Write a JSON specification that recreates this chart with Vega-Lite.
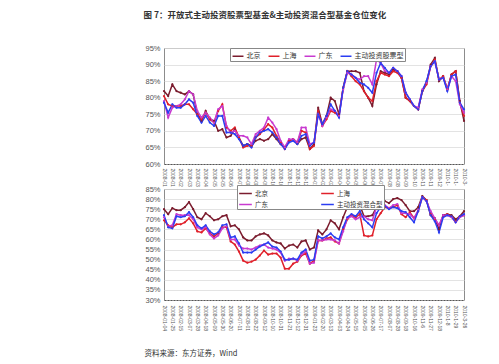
{
  "$schema": "https://vega.github.io/schema/vega-lite/v6.json",
  "padding": {"left": 143, "top": 11, "right": 20, "bottom": 2},
  "background": "white",
  "title": {"text": "图 7：开放式主动投资股票型基金&主动投资混合型基金仓位变化", "anchor": "start", "frame": "bounds", "fontSize": 8.5, "fontWeight": "bold", "font": "Noto Sans CJK SC", "color": "#333333", "offset": 24},
  "config": {
    "view": {"stroke": "#8c8c8c", "strokeWidth": 1},
    "concat": {"spacing": 25},
    "font": "Liberation Sans",
    "axis": {"labelColor": "#555555", "labelFont": "Liberation Sans", "ticks": false, "title": null, "gridColor": "#dcdcdc", "gridWidth": 0.8}
  },
  "bounds": "flush",
  "datasets": {
    "top": [
      {"t":0,"北京":82,"上海":80.5,"广东":79,"主动投资股票型":78.5},
      {"t":1,"北京":80.5,"上海":78,"广东":74,"主动投资股票型":75.5},
      {"t":2,"北京":84,"上海":77.5,"广东":77,"主动投资股票型":78},
      {"t":3,"北京":82,"上海":77.5,"广东":77.5,"主动投资股票型":77},
      {"t":4,"北京":81.5,"上海":77.5,"广东":78,"主动投资股票型":77},
      {"t":5,"北京":81,"上海":78,"广东":79.5,"主动投资股票型":78},
      {"t":6,"北京":82,"上海":78,"广东":82,"主动投资股票型":79.5},
      {"t":7,"北京":81,"上海":76.5,"广东":81,"主动投资股票型":78.5},
      {"t":8,"北京":75,"上海":75,"广东":76,"主动投资股票型":74.5},
      {"t":9,"北京":73,"上海":73.5,"广东":74,"主动投资股票型":72.5},
      {"t":10,"北京":76,"上海":75.5,"广东":75.5,"主动投资股票型":74.5},
      {"t":11,"北京":73.5,"上海":73.5,"广东":74,"主动投资股票型":72.5},
      {"t":12,"北京":73,"上海":72.5,"广东":72.5,"主动投资股票型":71.5},
      {"t":13,"北京":70,"上海":76,"广东":76.5,"主动投资股票型":74.5},
      {"t":14,"北京":70.5,"上海":78,"广东":77.5,"主动投资股票型":74.5},
      {"t":15,"北京":68,"上海":71,"广东":71.5,"主动投资股票型":69.5},
      {"t":16,"北京":68.5,"上海":70,"广东":69.5,"主动投资股票型":69.5},
      {"t":17,"北京":70.5,"上海":71,"广东":70,"主动投资股票型":69},
      {"t":18,"北京":68,"上海":68,"广东":68.5,"主动投资股票型":67.5},
      {"t":19,"北京":65.5,"上海":65,"广东":68.5,"主动投资股票型":65.5},
      {"t":20,"北京":66,"上海":65.5,"广东":68,"主动投资股票型":66},
      {"t":21,"北京":65.5,"上海":65.5,"广东":66,"主动投资股票型":65},
      {"t":22,"北京":67,"上海":68,"广东":69,"主动投资股票型":68},
      {"t":23,"北京":67.5,"上海":69,"广东":70,"主动投资股票型":69.5},
      {"t":24,"北京":67,"上海":70.5,"广东":71,"主动投资股票型":70},
      {"t":25,"北京":67.5,"上海":72,"广东":74,"主动投资股票型":70.5},
      {"t":26,"北京":69,"上海":71,"广东":72.5,"主动投资股票型":69.5},
      {"t":27,"北京":67.5,"上海":68.5,"广东":70.5,"主动投资股票型":68},
      {"t":28,"北京":66,"上海":66.5,"广东":67,"主动投资股票型":66},
      {"t":29,"北京":65,"上海":64.5,"广东":65,"主动投资股票型":64.5},
      {"t":30,"北京":67,"上海":67,"广东":67.5,"主动投资股票型":66.5},
      {"t":31,"北京":67.5,"上海":67.5,"广东":67.5,"主动投资股票型":67},
      {"t":32,"北京":66,"上海":66.5,"广东":66.5,"主动投资股票型":66},
      {"t":33,"北京":67.5,"上海":70,"广东":71,"主动投资股票型":68.5},
      {"t":34,"北京":68,"上海":69.5,"广东":71,"主动投资股票型":69},
      {"t":35,"北京":64.5,"上海":64.5,"广东":66,"主动投资股票型":65.5},
      {"t":36,"北京":66,"上海":65.5,"广东":66.5,"主动投资股票型":66.5},
      {"t":37,"北京":77,"上海":76,"广东":75,"主动投资股票型":75},
      {"t":38,"北京":72,"上海":71.5,"广东":71.5,"主动投资股票型":72},
      {"t":39,"北京":74.5,"上海":73.5,"广东":74,"主动投资股票型":74.5},
      {"t":40,"北京":80,"上海":76,"广东":76.5,"主动投资股票型":78},
      {"t":41,"北京":79,"上海":75.5,"广东":76,"主动投资股票型":76},
      {"t":42,"北京":75,"上海":74.5,"广东":74.5,"主动投资股票型":74},
      {"t":43,"北京":83,"上海":83,"广东":82.5,"主动投资股票型":83},
      {"t":44,"北京":88,"上海":88,"广东":87.5,"主动投资股票型":88},
      {"t":45,"北京":88,"上海":86.5,"广东":87,"主动投资股票型":87},
      {"t":46,"北京":88,"上海":85,"广东":86,"主动投资股票型":86},
      {"t":47,"北京":87.5,"上海":84,"广东":85.5,"主动投资股票型":84.5},
      {"t":48,"北京":82,"上海":82,"广东":86.5,"主动投资股票型":84},
      {"t":49,"北京":80,"上海":80,"广东":86.5,"主动投资股票型":83},
      {"t":50,"北京":77.5,"上海":79,"广东":84,"主动投资股票型":81.5},
      {"t":51,"北京":84,"上海":85,"广东":91.5,"主动投资股票型":87.5},
      {"t":52,"北京":88,"上海":87.5,"广东":90.5,"主动投资股票型":90.5},
      {"t":53,"北京":87.5,"上海":87,"广东":88,"主动投资股票型":89},
      {"t":54,"北京":87,"上海":86.5,"广东":87.5,"主动投资股票型":87.5},
      {"t":55,"北京":88.5,"上海":88,"广东":89,"主动投资股票型":89},
      {"t":56,"北京":88,"上海":87.5,"广东":88,"主动投资股票型":88},
      {"t":57,"北京":86,"上海":86,"广东":86.5,"主动投资股票型":86.5},
      {"t":58,"北京":80,"上海":80,"广东":81.5,"主动投资股票型":81.5},
      {"t":59,"北京":79,"上海":79,"广东":79.5,"主动投资股票型":79.5},
      {"t":60,"北京":77.5,"上海":77.5,"广东":77.5,"主动投资股票型":77.5},
      {"t":61,"北京":76.5,"上海":76.5,"广东":77,"主动投资股票型":76.5},
      {"t":62,"北京":82,"上海":82,"广东":82.5,"主动投资股票型":82},
      {"t":63,"北京":84.5,"上海":84,"广东":84.5,"主动投资股票型":85},
      {"t":64,"北京":90,"上海":89.5,"广东":89.5,"主动投资股票型":89.5},
      {"t":65,"北京":92,"上海":91.5,"广东":91,"主动投资股票型":91},
      {"t":66,"北京":85,"上海":85.5,"广东":85.5,"主动投资股票型":85.5},
      {"t":67,"北京":86.5,"上海":86.5,"广东":86,"主动投资股票型":86},
      {"t":68,"北京":82.5,"上海":82.5,"广东":82.5,"主动投资股票型":82},
      {"t":69,"北京":87,"上海":87,"广东":86.5,"主动投资股票型":86.5},
      {"t":70,"北京":88,"上海":88,"广东":85,"主动投资股票型":87},
      {"t":71,"北京":79,"上海":78.5,"广东":78,"主动投资股票型":78.5},
      {"t":72,"北京":73,"上海":74.5,"广东":75.5,"主动投资股票型":76.5}
    ],
    "bottom": [
      {"t":0,"北京":75,"上海":69.5,"广东":71,"主动投资混合型":72},
      {"t":1,"北京":72.5,"上海":67,"广东":66.5,"主动投资混合型":66},
      {"t":2,"北京":75.5,"上海":66,"广东":67,"主动投资混合型":65.5},
      {"t":3,"北京":74.5,"上海":67.5,"广东":72.5,"主动投资混合型":71.5},
      {"t":4,"北京":74.5,"上海":67.5,"广东":72,"主动投资混合型":71},
      {"t":5,"北京":76,"上海":68.5,"广东":72,"主动投资混合型":71.5},
      {"t":6,"北京":78.5,"上海":70.5,"广东":72,"主动投资混合型":73.5},
      {"t":7,"北京":75,"上海":68,"广东":70,"主动投资混合型":71},
      {"t":8,"北京":71,"上海":64,"广东":66,"主动投资混合型":67},
      {"t":9,"北京":70,"上海":63.5,"广东":65,"主动投资混合型":65.5},
      {"t":10,"北京":73,"上海":65.5,"广东":66,"主动投资混合型":67},
      {"t":11,"北京":71.5,"上海":63,"广东":62.5,"主动投资混合型":64},
      {"t":12,"北京":69.5,"上海":61.5,"广东":60.5,"主动投资混合型":62.5},
      {"t":13,"北京":70,"上海":63,"广东":62,"主动投资混合型":63.5},
      {"t":14,"北京":71.5,"上海":66,"广东":65.5,"主动投资混合型":67},
      {"t":15,"北京":72,"上海":66,"广东":66.5,"主动投资混合型":67.5},
      {"t":16,"北京":66.5,"上海":59,"广东":60,"主动投资混合型":61},
      {"t":17,"北京":67,"上海":57.5,"广东":60,"主动投资混合型":61.5},
      {"t":18,"北京":65,"上海":54,"广东":57,"主动投资混合型":58},
      {"t":19,"北京":61,"上海":49.5,"广东":55.5,"主动投资混合型":53.5},
      {"t":20,"北京":59.5,"上海":48.5,"广东":55.5,"主动投资混合型":53.5},
      {"t":21,"北京":59.5,"上海":49,"广东":55,"主动投资混合型":53.5},
      {"t":22,"北京":61.5,"上海":50,"广东":56,"主动投资混合型":55},
      {"t":23,"北京":62.5,"上海":52,"广东":57,"主动投资混合型":56.5},
      {"t":24,"北京":63,"上海":54.5,"广东":57.5,"主动投资混合型":57.5},
      {"t":25,"北京":62,"上海":52.5,"广东":56,"主动投资混合型":58.5},
      {"t":26,"北京":59.5,"上海":53,"广东":55.5,"主动投资混合型":56.5},
      {"t":27,"北京":58.5,"上海":53,"广东":55,"主动投资混合型":56},
      {"t":28,"北京":58,"上海":51,"广东":53.5,"主动投资混合型":54},
      {"t":29,"北京":55.5,"上海":45.5,"广东":49.5,"主动投资混合型":50},
      {"t":30,"北京":57,"上海":45.5,"广东":50.5,"主动投资混合型":50},
      {"t":31,"北京":57.5,"上海":48,"广东":50.5,"主动投资混合型":50.5},
      {"t":32,"北京":56,"上海":49,"广东":49.5,"主动投资混合型":50},
      {"t":33,"北京":59,"上海":52,"广东":52.5,"主动投资混合型":53.5},
      {"t":34,"北京":59.5,"上海":53,"广东":54,"主动投资混合型":55},
      {"t":35,"北京":55,"上海":48,"广东":48,"主动投资混合型":49.5},
      {"t":36,"北京":56,"上海":49.5,"广东":48.5,"主动投资混合型":50},
      {"t":37,"北京":64.5,"上海":59.5,"广东":59.5,"主动投资混合型":61.5},
      {"t":38,"北京":62.5,"上海":59.5,"广东":59.5,"主动投资混合型":60.5},
      {"t":39,"北京":65,"上海":60.5,"广东":60,"主动投资混合型":61.5},
      {"t":40,"北京":69.5,"上海":61,"广东":60,"主动投资混合型":63},
      {"t":41,"北京":68,"上海":59,"广东":59.5,"主动投资混合型":61},
      {"t":42,"北京":65,"上海":58,"广东":58,"主动投资混合型":60},
      {"t":43,"北京":71,"上海":65,"广东":64,"主动投资混合型":66},
      {"t":44,"北京":76,"上海":70,"广东":70.5,"主动投资混合型":71},
      {"t":45,"北京":76.5,"上海":72,"广东":71.5,"主动投资混合型":72.5},
      {"t":46,"北京":76.5,"上海":71,"广东":70,"主动投资混合型":71.5},
      {"t":47,"北京":77,"上海":72.5,"广东":71,"主动投资混合型":74},
      {"t":48,"北京":71.5,"上海":62,"广东":71.5,"主动投资混合型":70},
      {"t":49,"北京":71.5,"上海":61.5,"广东":70,"主动投资混合型":68},
      {"t":50,"北京":72,"上海":62,"广东":69.5,"主动投资混合型":66},
      {"t":51,"北京":76,"上海":70,"广东":76,"主动投资混合型":73},
      {"t":52,"北京":78,"上海":73,"广东":78,"主动投资混合型":76},
      {"t":53,"北京":79,"上海":76,"广东":77,"主动投资混合型":76.5},
      {"t":54,"北京":78,"上海":75.5,"广东":75.5,"主动投资混合型":75},
      {"t":55,"北京":80,"上海":76,"广东":77,"主动投资混合型":76},
      {"t":56,"北京":80.5,"上海":77,"广东":77.5,"主动投资混合型":75.5},
      {"t":57,"北京":79.5,"上海":72.5,"广东":73,"主动投资混合型":74},
      {"t":58,"北京":77,"上海":71,"广东":73,"主动投资混合型":73.5},
      {"t":59,"北京":74,"上海":73.5,"广东":72.5,"主动投资混合型":71},
      {"t":60,"北京":74,"上海":70.5,"广东":70.5,"主动投资混合型":68.5},
      {"t":61,"北京":76,"上海":74,"广东":74.5,"主动投资混合型":74},
      {"t":62,"北京":81.5,"上海":81,"广东":81,"主动投资混合型":81},
      {"t":63,"北京":79.5,"上海":79.5,"广东":79,"主动投资混合型":79},
      {"t":64,"北京":72,"上海":72.5,"广东":74,"主动投资混合型":72},
      {"t":65,"北京":70.5,"上海":70,"广东":70.5,"主动投资混合型":69},
      {"t":66,"北京":65,"上海":67,"广东":67,"主动投资混合型":63.5},
      {"t":67,"北京":72,"上海":71.5,"广东":72,"主动投资混合型":71},
      {"t":68,"北京":72.5,"上海":72.5,"广东":72,"主动投资混合型":72},
      {"t":69,"北京":72,"上海":71.5,"广东":71,"主动投资混合型":71.5},
      {"t":70,"北京":70,"上海":69,"广东":68.5,"主动投资混合型":68.5},
      {"t":71,"北京":71.5,"上海":71.5,"广东":71,"主动投资混合型":71.5},
      {"t":72,"北京":74,"上海":72,"广东":72,"主动投资混合型":72.5}
    ]
  },
  "vconcat": [
    {
      "width": 300,
      "height": 116,
      "data": {"name": "top"},
      "transform": [{"fold": ["北京", "上海", "广东", "主动投资股票型"], "as": ["series", "value"]}],
      "mark": {"type": "line", "strokeWidth": 1.5, "point": {"size": 5, "filled": true}},
      "encoding": {
        "x": {"field": "t", "type": "quantitative", "scale": {"domain": [0, 72], "nice": false, "zero": false},
          "axis": {"values": [0,2,4,6,8,10,12,14,16,18,20,22,24,26,28,30,32,34,36,38,40,42,44,46,48,50,52,54,56,58,60,62,64,66,68,70,72],
            "labelExpr": "substring(['2008-01-04','2008-01-25','2008-02-15','2008-03-07','2008-03-28','2008-04-18','2008-05-09','2008-05-30','2008-06-20','2008-07-11','2008-08-01','2008-08-22','2008-09-12','2008-10-10','2008-10-31','2008-11-21','2008-12-12','2008-12-31','2009-01-23','2009-02-20','2009-03-13','2009-04-03','2009-04-24','2009-05-15','2009-06-05','2009-06-26','2009-07-17','2009-08-07','2009-08-28','2009-09-18','2009-10-16','2009-11-6','2009-11-27','2009-12-18','2010-1-8','2010-1-29','2010-3-26'][datum.value/2], 0, 7)",
            "labelAngle": 90, "labelFontSize": 5, "labelPadding": 4, "grid": false, "labelOverlap": false,
            "domain": true, "domainColor": "#555555", "domainDash": [2, 1], "domainWidth": 1}},
        "y": {"field": "value", "type": "quantitative", "scale": {"domain": [60, 95], "nice": false, "zero": false},
          "axis": {"values": [60,65,70,75,80,85,90,95], "labelExpr": "datum.value + '%'", "labelFontSize": 7.5, "labelPadding": 4, "grid": true, "domain": false}},
        "color": {"field": "series", "type": "nominal", "sort": null,
          "scale": {"domain": ["北京", "上海", "广东", "主动投资股票型"], "range": ["#7b1c2e", "#e0202a", "#c83ad0", "#2b3df2"]},
          "legend": {"orient": "none", "legendX": 66, "legendY": 0, "direction": "horizontal", "columns": 4, "title": null,
            "symbolType": "stroke", "symbolSize": 120, "symbolStrokeWidth": 1.5, "labelFontSize": 7, "labelFont": "Noto Sans CJK SC", "labelColor": "#333333",
            "strokeColor": "#888888", "fillColor": "white", "padding": 1.5, "columnPadding": 5, "labelOffset": 2}}
      }
    },
    {
      "width": 300,
      "height": 111,
      "data": {"name": "bottom"},
      "transform": [{"fold": ["北京", "上海", "广东", "主动投资混合型"], "as": ["series", "value"]}],
      "mark": {"type": "line", "strokeWidth": 1.5, "point": {"size": 5, "filled": true}},
      "encoding": {
        "x": {"field": "t", "type": "quantitative", "scale": {"domain": [0, 72], "nice": false, "zero": false},
          "axis": {"values": [0,2,4,6,8,10,12,14,16,18,20,22,24,26,28,30,32,34,36,38,40,42,44,46,48,50,52,54,56,58,60,62,64,66,68,70,72],
            "labelExpr": "['2008-01-04','2008-01-25','2008-02-15','2008-03-07','2008-03-28','2008-04-18','2008-05-09','2008-05-30','2008-06-20','2008-07-11','2008-08-01','2008-08-22','2008-09-12','2008-10-10','2008-10-31','2008-11-21','2008-12-12','2008-12-31','2009-01-23','2009-02-20','2009-03-13','2009-04-03','2009-04-24','2009-05-15','2009-06-05','2009-06-26','2009-07-17','2009-08-07','2009-08-28','2009-09-18','2009-10-16','2009-11-6','2009-11-27','2009-12-18','2010-1-8','2010-1-29','2010-3-26'][datum.value/2]",
            "labelAngle": 90, "labelFontSize": 5, "labelPadding": 5, "grid": false, "labelOverlap": false,
            "domain": true, "domainColor": "#555555", "domainDash": [2, 1], "domainWidth": 1,
            "title": "资料来源：东方证券，Wind", "titleFont": "Noto Sans CJK SC", "titleFontSize": 7.5, "titleFontWeight": "normal", "titleColor": "#333333",
            "titleAnchor": "start", "titleAlign": "left", "titleBaseline": "middle", "titleX": -20, "titleY": 53}},
        "y": {"field": "value", "type": "quantitative", "scale": {"domain": [30, 85], "nice": false, "zero": false},
          "axis": {"values": [30,35,40,45,50,55,60,65,70,75,80,85], "labelExpr": "datum.value + '%'", "labelFontSize": 7.5, "labelPadding": 4, "grid": true, "domain": false}},
        "color": {"field": "series", "type": "nominal", "sort": null,
          "scale": {"domain": ["北京", "上海", "广东", "主动投资混合型"], "range": ["#7b1c2e", "#e0202a", "#c83ad0", "#2b3df2"]},
          "legend": {"orient": "none", "legendX": 73, "legendY": -4, "direction": "horizontal", "columns": 2, "title": null,
            "symbolType": "stroke", "symbolSize": 160, "symbolStrokeWidth": 1.5, "labelFontSize": 6.5, "labelFont": "Noto Sans CJK SC", "labelColor": "#333333",
            "strokeColor": "#888888", "fillColor": "white", "padding": 1, "columnPadding": 50, "rowPadding": 0, "labelOffset": 2}}
      }
    }
  ],
  "resolve": {"scale": {"color": "independent"}}
}
